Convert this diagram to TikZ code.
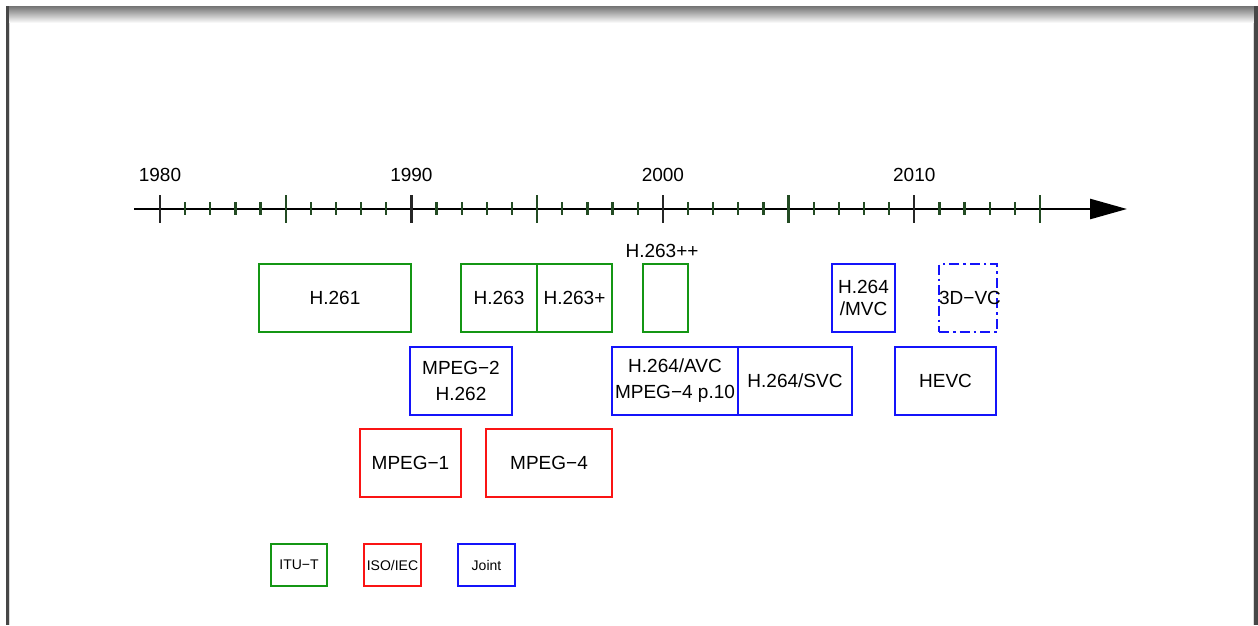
\documentclass[tikz,border=0pt]{standalone}
\usepackage{fontspec}
\setmainfont{Liberation Sans}
\usetikzlibrary{arrows.meta}
\definecolor{itugreen}{RGB}{20,150,20}
\definecolor{isored}{RGB}{250,20,20}
\definecolor{jointblue}{RGB}{20,20,250}
\definecolor{tickgreen}{RGB}{35,75,35}
\tikzset{
  box/.style={draw, line width=2.6pt, minimum height=68pt, inner sep=0pt, align=center,
    font=\fontsize{19}{26}\selectfont},
  gbox/.style={box, draw=itugreen},
  rbox/.style={box, draw=isored},
  bbox/.style={box, draw=jointblue},
  legbox/.style={draw, line width=2.6pt, minimum height=42pt, minimum width=57pt, inner sep=0pt,
    font=\fontsize{14}{16}\selectfont},
  yearlab/.style={font=\fontsize{19}{22}\selectfont, inner sep=0pt},
  plainlab/.style={font=\fontsize{19}{22}\selectfont, inner sep=0pt},
}
\begin{document}
\begin{tikzpicture}[x=1pt,y=-1pt]
\useasboundingbox (0,0) rectangle (1258,625);
% page frame
\fill[white] (0,0) rectangle (1258,625);
\shade[top color=black!55, bottom color=white] (9,6) rectangle (1254,23);
\fill[black!72] (6,6) rectangle (9.3,625);
\fill[black!15] (9.3,23) rectangle (10.3,625);
\fill[black!72] (1254,6) rectangle (1258,625);
\fill[black!15] (1252.8,23) rectangle (1254,625);
% axis
\draw[line width=2.6pt, -{Triangle[length=37pt,width=20pt]}] (134,209) -- (1127,209);
\foreach \yr in {0,...,35}{
  \pgfmathsetmacro{\xx}{160+\yr*25.143}
  \pgfmathtruncatemacro{\mfive}{mod(\yr,5)}
  \pgfmathtruncatemacro{\mten}{mod(\yr,10)}
  \ifnum\mfive=0
    \ifnum\mten=0
      \draw[line width=2.3pt, black!85] (\xx,195) -- (\xx,223);
    \else
      \draw[line width=2.3pt, tickgreen] (\xx,195) -- (\xx,223);
    \fi
  \else
    \draw[line width=2.3pt, tickgreen] (\xx,202) -- (\xx,215);
  \fi
}
\node[yearlab] (y1980) at (160,175) {1980};
\node[yearlab] (y1990) at (411.4,175) {1990};
\node[yearlab] (y2000) at (662.9,175) {2000};
\node[yearlab] (y2010) at (914.3,175) {2010};
% row 1
\node[gbox, minimum width=152pt] (h261) at (335,298) {H.261};
\node[gbox, minimum width=76pt] (h263) at (499,298) {H.263};
\node[gbox, minimum width=75pt] (h263p) at (574.5,298) {H.263+};
\node[gbox, minimum width=45pt] (h263pp) at (665.5,298) {};
\node[plainlab] (h263pplab) at (662,251) {H.263++};
\node[bbox, minimum width=63pt, font=\fontsize{19}{22}\selectfont] (mvc) at (863.5,298) {H.264\\/MVC};
\node[bbox, minimum width=58pt, dash pattern=on 10pt off 4pt on 2.5pt off 4pt] (vc3d) at (968,298) {};
\node[plainlab] (vc3dlab) at (970,298) {3D−VC};
% row 2
\node[bbox, minimum width=102pt] (mpeg2) at (461,381) {MPEG−2\\H.262};
\node[bbox, minimum width=126pt] (avc) at (675,381) {H.264/AVC\\MPEG−4 p.10};
\node[bbox, minimum width=114pt] (svc) at (795,381) {H.264/SVC};
\node[bbox, minimum width=101pt] (hevc) at (945.5,381) {HEVC};
% row 3
\node[rbox, minimum width=101pt] (mpeg1) at (410.5,463) {MPEG−1};
\node[rbox, minimum width=126pt] (mpeg4) at (549,463) {MPEG−4};
% legend
\node[legbox, draw=itugreen, minimum width=56pt] (itut) at (299,565) {ITU−T};
\node[legbox, draw=isored] (isoiec) at (392.5,565) {ISO/IEC};
\node[legbox, draw=jointblue] (joint) at (486.5,565) {Joint};
\end{tikzpicture}
\end{document}
